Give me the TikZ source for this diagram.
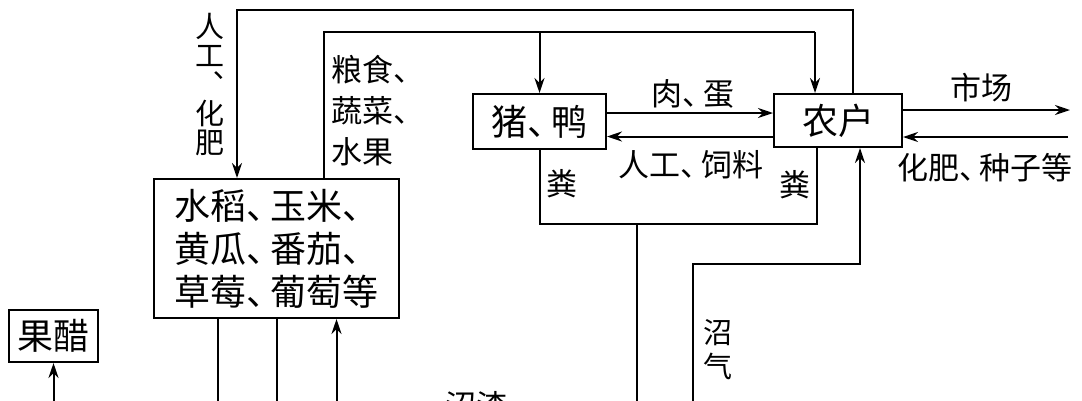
\documentclass[tikz,border=0pt]{standalone}
\usepackage{fontspec}
\setmainfont{Noto Sans CJK SC}
\usetikzlibrary{arrows.meta}
\newcommand\dunhao{、\kern-0.35em}

\begin{document}
\begin{tikzpicture}[x=1pt, y=-1pt,
            line width=2pt,
            every node/.style={rectangle, align=center, inner sep=0pt},
            box/.style={draw, font=\fontsize{36pt}{43pt}\selectfont},
            lab/.style={font=\fontsize{31pt}{41pt}\selectfont},
            vlab/.style={font=\fontsize{29pt}{29pt}\selectfont},
            arr/.style={-{Stealth[length=15pt,width=10pt]}}]
        \useasboundingbox (0,0) rectangle (1082,400);
        \clip (0,0) rectangle (1082,400);

        \node [box, minimum width=245pt, minimum height=139pt, align=left] (crops) at (276.5,248.5)
            {水稻\dunhao 玉米\dunhao\\黄瓜\dunhao 番茄\dunhao\\草莓\dunhao 葡萄等};
        \node [box, minimum width=133pt, minimum height=55pt] (pig) at (539.5,121.5) {猪\dunhao 鸭};
        \node [box, minimum width=128pt, minimum height=53pt] (farm) at (838,120.5) {农户};
        \node [box, minimum width=89pt, minimum height=52pt] (vinegar) at (53.5,336) {果醋};

        \node [vlab] (labour) at (210,85) {人\\工\\︑\\化\\肥};
        \node [lab, align=left, anchor=west] (food) at (330,111) {粮食\dunhao\\蔬菜\dunhao\\水果};
        \node [lab] (meat) at (693,94) {肉\dunhao 蛋};
        \node [lab] (feed) at (691,165) {人工\dunhao 饲料};
        \node [lab] (dung1) at (562,184) {粪};
        \node [lab] (dung2) at (795,185) {粪};
        \node [lab] (market) at (981,88) {市场};
        \node [lab] (seed) at (985,168) {化肥\dunhao 种子等};
        \node [vlab] (gas) at (718,350) {沼\\[5pt]气};
        \node [lab] (residue) at (476,406) {沼渣};

        \coordinate (t2) at (237,10);
        \coordinate (f1) at (324,32);
        \coordinate (f2) at (815,32);
        \coordinate (m1) at ([yshift=8.5pt]pig.east);
        \coordinate (m2) at ([yshift=-15pt]pig.east);
        \coordinate (mk) at (1070,110);
        \coordinate (sd) at (1068,137);
        \coordinate (d) at (637,224);
        \coordinate (dR) at ([xshift=-21pt]farm.south);
        \coordinate (gT) at ([xshift=22pt]farm.south);
        \coordinate (gK) at (693,264);
        \coordinate (c1) at ([xshift=-59pt]crops.south);
        \coordinate (c3) at ([xshift=60pt]crops.south);
        \coordinate (bot) at (0,410);

        \draw [arr] ([xshift=15pt]farm.north) |- (t2) -- (t2 |- crops.north);
        \draw (f1 |- crops.north) -- (f1) -- (f2);
        \draw [arr] (f2) -- (f2 |- farm.north);
        \draw [arr] (pig.north |- f1) -- (pig.north);
        \draw [arr] (m1) -- (m1 -| farm.west);
        \draw [arr] (m2 -| farm.west) -- (m2);
        \draw [arr] (farm.east |- mk) -- (mk);
        \draw [arr] (sd) -- (farm.east |- sd);
        \draw (pig.south) |- (dR |- d) -- (dR);
        \draw (d) -- (d |- bot);
        \draw [arr] (gK |- bot) -- (gK) -| (gT);
        \draw (c1) -- (c1 |- bot);
        \draw (crops.south) -- (crops.south |- bot);
        \draw [arr] (c3 |- bot) -- (c3);
        \draw [arr] (vinegar.south |- bot) -- (vinegar.south);
    \end{tikzpicture}
\end{document}
